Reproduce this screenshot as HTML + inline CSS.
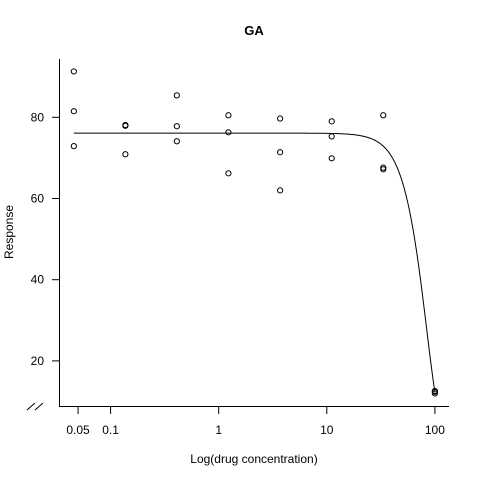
<!DOCTYPE html>
<html><head><meta charset="utf-8"><style>
body{margin:0;background:#fff}
svg text{font-family:"Liberation Sans",Arial,sans-serif;fill:#000}
</style></head><body>
<svg id="c" width="480" height="480" viewBox="0 0 480 480"></svg>
<script>
const doses=[0.0457,0.0457,0.0457,0.137,0.137,0.137,0.41,0.41,0.41,1.23,1.23,1.23,3.7,3.7,3.7,11.1,11.1,11.1,33.3,33.3,33.3,100,100,100];
const responses=[91.3,81.5,72.9,78.1,77.9,70.9,85.4,77.8,74.1,80.5,76.3,66.2,79.7,71.4,62.0,79.0,75.3,69.9,80.5,67.6,67.2,12.6,12.4,12.0];
const xTicks=[0.05,0.1,1,10,100];
const xTickLabels=["0.05","0.1","1","10","100"];
const yTicks=[20,40,60,80];
const fitParams=[76.1,3.41,83.8]; // upper, slope, scale
const NS="http://www.w3.org/2000/svg";
const svg=document.getElementById('c');
function X(d){return 218.7+(Math.log10(d))*108.1;}
function Y(v){return 117.3+(80-v)*4.06;}
function el(t,a,txt){const e=document.createElementNS(NS,t);for(const k in a)e.setAttribute(k,a[k]);if(txt!==undefined)e.textContent=txt;svg.appendChild(e);return e;}
let e;
e=el('text',{x:254,y:35,'text-anchor':'middle','font-size':13,'font-weight':'bold'},'GA');

e=el('text',{x:254,y:463,'text-anchor':'middle','font-size':12},'Log(drug concentration)');

e=el('text',{x:13,y:232,'text-anchor':'middle','font-size':12,transform:'rotate(-90 13 232)'},'Response');

e=el('path',{d:'M59.5 59V406.5H449',stroke:'#000',fill:'none','stroke-width':1});

e=el('path',{d:'M27 410L35 403M35 410L43 403',stroke:'#000','stroke-width':1});

xTicks.forEach((t,i)=>{
 const x=X(t);
 e=el('line',{x1:x,x2:x,y1:406.5,y2:414,stroke:'#000'});
 
 e=el('text',{x:x,y:434,'text-anchor':'middle','font-size':12},xTickLabels[i]);
 
});
yTicks.forEach(t=>{
 const y=Y(t);
 e=el('line',{x1:52,x2:59.5,y1:y,y2:y,stroke:'#000'});
 
 e=el('text',{x:44,y:y+4,'text-anchor':'end','font-size':12},String(t));
 
});
let pts=[];
const lo=Math.log10(doses[0]),hi=Math.log10(doses[doses.length-1]);
for(let i=0;i<=200;i++){const d=Math.pow(10,lo+(hi-lo)*i/200);const v=fitParams[0]*Math.exp(-Math.pow(d/fitParams[2],fitParams[1]));pts.push(X(d).toFixed(2)+','+Y(v).toFixed(2));}
e=el('polyline',{points:pts.join(' '),fill:'none',stroke:'#000','stroke-width':1});

doses.forEach((d,i)=>{
 e=el('circle',{cx:X(d),cy:Y(responses[i]),r:2.6,fill:'none',stroke:'#000','stroke-width':1});
 
});
</script>
</body></html>
